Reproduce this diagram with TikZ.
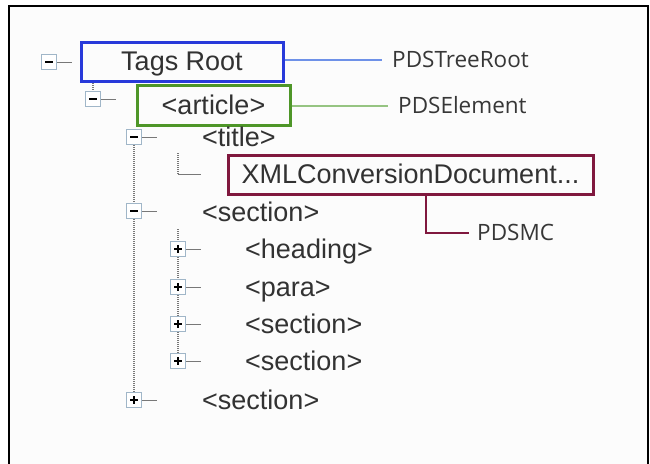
\documentclass[tikz,border=0pt]{standalone}
\usepackage{fontspec}
\setmainfont{Liberation Sans}
\newfontfamily\lblfont{Open Sans}
\definecolor{rootblue}{RGB}{40,58,218}
\definecolor{rootline}{RGB}{110,145,232}
\definecolor{elgreen}{RGB}{78,150,40}
\definecolor{elline}{RGB}{150,196,130}
\definecolor{mcred}{RGB}{128,24,62}
\definecolor{iconedge}{RGB}{160,182,200}
\definecolor{treetext}{RGB}{50,50,50}
\definecolor{lbltext}{RGB}{55,55,55}
\definecolor{dotgray}{RGB}{120,120,120}
\definecolor{bggray}{RGB}{252,252,252}
\begin{document}
\begin{tikzpicture}[x=1pt,y=-1pt,
  treetxt/.style={inner sep=0pt, anchor=west, text=treetext, font=\fontsize{27}{31}\selectfont, text height=18pt, text depth=0pt},
  hlbox/.style={draw, line width=3pt, inner sep=0pt, text=treetext, font=\fontsize{27}{31}\selectfont, text height=18pt, text depth=0pt},
  lbl/.style={inner sep=0pt, anchor=west, text=lbltext, font=\lblfont\fontsize{22.5}{26}\selectfont, text height=15pt, text depth=0pt},
  iconbox/.style={draw=iconedge, line width=1.3pt, fill=white, minimum size=15pt, inner sep=0pt},
  minusbox/.style={iconbox, path picture={\draw[black, line width=1.4pt] ([xshift=3.5pt]path picture bounding box.west) -- ([xshift=-3.5pt]path picture bounding box.east);}},
  plusbox/.style={iconbox, path picture={\draw[black, line width=1.4pt] ([xshift=3.5pt]path picture bounding box.west) -- ([xshift=-3.5pt]path picture bounding box.east) ([yshift=-3.5pt]path picture bounding box.north) -- ([yshift=3.5pt]path picture bounding box.south);}},
  stubline/.style={draw=dotgray, line width=1pt},
  dotline/.style={draw=dotgray, line width=1.2pt, dash pattern=on 1pt off 1pt},
  conn/.style={line width=2pt}
]
\useasboundingbox (0,0) rectangle (650,463);
% frame
\fill[bggray] (9,6) rectangle (648,470);
\draw[black, line width=2.2pt] (9,470) -- (9,6) -- (648,6) -- (648,470);

% highlighted nodes
\node[hlbox, draw=rootblue, minimum width=202pt, minimum height=39pt] (root) at (182,61.5) {Tags Root};
\node[hlbox, draw=elgreen, minimum width=153pt, minimum height=40pt] (article) at (213.5,105) {<article>};
\node[hlbox, draw=mcred, minimum width=365pt, minimum height=39pt] (xml) at (410.5,174.5) {XMLConversionDocument...};

% plain tree texts
\node[treetxt] (title) at (202,137) {<title>};
\node[treetxt] (sec1) at (202,212) {<section>};
\node[treetxt] (heading) at (245,249) {<heading>};
\node[treetxt] (para) at (245,287) {<para>};
\node[treetxt] (sec2) at (245,324) {<section>};
\node[treetxt] (sec3) at (245,361) {<section>};
\node[treetxt] (sec4) at (202,400) {<section>};

% labels
\node[lbl] (lroot) at (392,60) {PDSTreeRoot};
\node[lbl] (lel) at (398,106) {PDSElement};
\node[lbl] (lmc) at (477,233) {PDSMC};

% icons
\node[minusbox] (iroot) at (49,62) {};
\node[minusbox] (iart) at (93,99) {};
\node[minusbox] (ititle) at (134,137) {};
\node[minusbox] (isec1) at (134,211) {};
\node[plusbox] (ihead) at (178,249) {};
\node[plusbox] (ipara) at (178,287) {};
\node[plusbox] (isec2) at (178,324) {};
\node[plusbox] (isec3) at (178,361) {};
\node[plusbox] (isec4) at (134,400) {};

% stubs from icons
\foreach \n in {iroot,iart,ititle,isec1,ihead,ipara,isec2,isec3,isec4}
  \draw[stubline] (\n.east) -- ++(15,0);

% dotted tree lines
\coordinate (artTop) at (93,83);
\coordinate (kidTop) at (178,229);
\coordinate (leafTop) at (178,153);
\coordinate (leafEnd) at (201,174);
\draw[dotline] (artTop) -- (iart.north);
\draw[dotline] (ititle.south) -- (isec1.north);
\draw[dotline] (isec1.south) -- (isec4.north);
\draw[dotline] (kidTop) -- (ihead.north);
\draw[dotline] (ihead.south) -- (ipara.north);
\draw[dotline] (ipara.south) -- (isec2.north);
\draw[dotline] (isec2.south) -- (isec3.north);
\draw[dotline] (leafTop) -- (leafTop |- leafEnd);
\draw[stubline] (leafTop |- leafEnd) -- (leafEnd);

% connectors to labels
\draw[conn, rootline] (root.east |- lroot.west) -- ([xshift=-10pt]lroot.west);
\draw[conn, elline] (article.east |- lel.west) -- ([xshift=-10pt]lel.west);
\coordinate (mcx) at (426,0);
\draw[conn, mcred] (xml.south -| mcx) |- ([xshift=-8pt]lmc.west);
\end{tikzpicture}
\end{document}
